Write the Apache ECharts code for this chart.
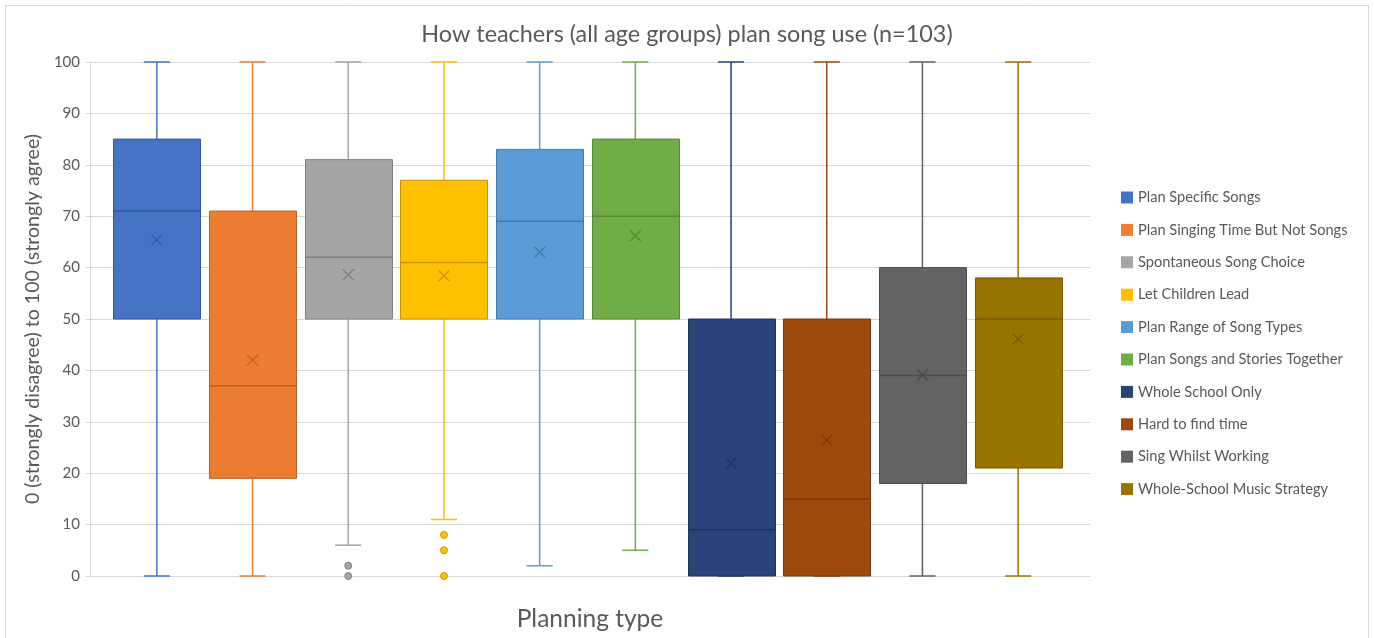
<!DOCTYPE html>
<html>
<head>
<meta charset="utf-8">
<title>How teachers plan song use</title>
<script src="https://cdn.jsdelivr.net/npm/echarts@6/dist/echarts.min.js"></script>
<style>
  html, body { margin: 0; padding: 0; background: #ffffff; }
  #chart { width: 1374px; height: 638px; }
</style>
</head>
<body>
<div id="chart"></div>
<script>
// Planning statements (one box each)
const categories = [
  'Plan Specific Songs',
  'Plan Singing Time But Not Songs',
  'Spontaneous Song Choice',
  'Let Children Lead',
  'Plan Range of Song Types',
  'Plan Songs and Stories Together',
  'Whole School Only',
  'Hard to find time',
  'Sing Whilst Working',
  'Whole-School Music Strategy'
];

// Five-number summaries and means on the 0–100 agreement scale
const lowWhisker  = [0, 0, 6, 11, 2, 5, 0, 0, 0, 0];
const q1          = [50, 19, 50, 50, 50, 50, 0, 0, 18, 21];
const median      = [71, 37, 62, 61, 69, 70, 9, 15, 39, 50];
const q3          = [85, 71, 81, 77, 83, 85, 50, 50, 60, 58];
const highWhisker = [100, 100, 100, 100, 100, 100, 100, 100, 100, 100];
const mean        = [65.4, 42.0, 58.6, 58.4, 63.0, 66.2, 22.0, 26.4, 39.1, 46.1];

// Points beyond the whiskers
const outliers = [[], [], [2, 0], [8, 5, 0], [], [], [], [], [], []];

// Value axis ticks
const yMin = 0;
const yMax = 100;
const yStep = 10;

const palette = [
  '#4472C4', '#ED7D31', '#A5A5A5', '#FFC000', '#5B9BD5',
  '#70AD47', '#264478', '#9E480E', '#636363', '#997300'
];

const FONT = 'Lato, "Noto Sans", sans-serif';
const TEXT = '#595959';
const GRID_LINE = '#d9d9d9';

function darken(hex, amt) {
  const n = parseInt(hex.slice(1), 16);
  const r = Math.round(((n >> 16) & 255) * (1 - amt));
  const g = Math.round(((n >> 8) & 255) * (1 - amt));
  const b = Math.round((n & 255) * (1 - amt));
  return 'rgb(' + r + ',' + g + ',' + b + ')';
}

function renderBox(params, api) {
  const idx = api.value(0);
  const xc = api.coord([idx, 0])[0];
  const yOf = function (v) { return api.coord([idx, v])[1]; };
  const w = api.size([1, 0])[0] * 0.91;
  const cap = w * 0.3;
  const col = palette[idx];
  const dark = darken(col, 0.22);

  const lo = api.value(1), b1 = api.value(2), md = api.value(3),
        b3 = api.value(4), hi = api.value(5), mu = api.value(6);

  const yLo = yOf(lo), y1 = yOf(b1), yMd = yOf(md), y3 = yOf(b3), yHi = yOf(hi), yMu = yOf(mu);
  const wStyle = { stroke: col, lineWidth: 1.5, fill: null };
  const x0 = Math.round(xc - w / 2) + 0.5;
  const x1 = Math.round(xc + w / 2) + 0.5;
  const m = 5.5;

  return {
    type: 'group',
    children: [
      { type: 'line', shape: { x1: xc, y1: yHi, x2: xc, y2: y3 }, style: wStyle },
      { type: 'line', shape: { x1: xc - cap / 2, y1: yHi, x2: xc + cap / 2, y2: yHi }, style: wStyle },
      { type: 'line', shape: { x1: xc, y1: yLo, x2: xc, y2: y1 }, style: wStyle },
      { type: 'line', shape: { x1: xc - cap / 2, y1: yLo, x2: xc + cap / 2, y2: yLo }, style: wStyle },
      {
        type: 'rect',
        shape: { x: x0, y: y3, width: x1 - x0, height: y1 - y3 },
        style: { fill: col, stroke: dark, lineWidth: 1 }
      },
      { type: 'line', shape: { x1: x0, y1: yMd, x2: x1, y2: yMd }, style: { stroke: dark, lineWidth: 1.5 } },
      { type: 'line', shape: { x1: xc - m, y1: yMu - m, x2: xc + m, y2: yMu + m }, style: { stroke: dark, lineWidth: 1.3 } },
      { type: 'line', shape: { x1: xc - m, y1: yMu + m, x2: xc + m, y2: yMu - m }, style: { stroke: dark, lineWidth: 1.3 } }
    ]
  };
}

const series = [];
categories.forEach(function (name, i) {
  series.push({
    name: name,
    type: 'custom',
    xAxisIndex: 1,
    yAxisIndex: 1,
    itemStyle: { color: palette[i] },
    encode: { x: 0, y: [1, 2, 3, 4, 5, 6] },
    data: [[i, lowWhisker[i], q1[i], median[i], q3[i], highWhisker[i], mean[i]]],
    renderItem: renderBox,
    z: 3
  });
});
outliers.forEach(function (pts, i) {
  if (!pts.length) return;
  series.push({
    name: categories[i] + ' (outliers)',
    type: 'scatter',
    xAxisIndex: 1,
    yAxisIndex: 1,
    symbol: 'circle',
    symbolSize: 7,
    itemStyle: { color: palette[i], borderColor: darken(palette[i], 0.2), borderWidth: 1, opacity: 1 },
    data: pts.map(function (v) { return [i, v]; }),
    z: 4
  });
});

const chart = echarts.init(document.getElementById('chart'), null, { renderer: 'canvas' });
chart.setOption({
  animation: false,
  backgroundColor: '#ffffff',
  textStyle: { fontFamily: FONT },
  graphic: [{
    type: 'rect',
    shape: { x: 5.5, y: 5.5, width: 1363, height: 640 },
    style: { fill: null, stroke: GRID_LINE, lineWidth: 1 },
    silent: true,
    z: -10
  }],
  title: {
    text: 'How teachers (all age groups) plan song use (n=103)',
    left: 'center',
    top: 18,
    textStyle: { fontFamily: FONT, fontSize: 23.4, fontWeight: 'normal', color: TEXT }
  },
  legend: {
    data: categories,
    orient: 'vertical',
    left: 1116,
    top: 185,
    icon: 'rect',
    itemWidth: 12,
    itemHeight: 12,
    itemGap: 17.4,
    textStyle: { fontFamily: FONT, fontSize: 14.6, color: TEXT, lineHeight: 14 }
  },
  grid: [
    { left: 90, top: 62, width: 1000, height: 514, outerBoundsMode: 'none', containLabel: false },
    { left: 109, top: 62, width: 957, height: 514, outerBoundsMode: 'none', containLabel: false }
  ],
  xAxis: [
    {
      gridIndex: 0,
      type: 'category',
      data: [''],
      axisLine: { show: true, lineStyle: { color: GRID_LINE, width: 1 } },
      axisTick: { show: false },
      axisLabel: { show: false },
      name: 'Planning type',
      nameLocation: 'middle',
      nameGap: 31,
      nameTextStyle: { fontFamily: FONT, fontSize: 24.5, color: TEXT }
    },
    {
      gridIndex: 1,
      type: 'category',
      data: categories,
      show: false
    }
  ],
  yAxis: [
    {
      gridIndex: 0,
      type: 'value',
      min: yMin,
      max: yMax,
      interval: yStep,
      axisLine: { show: true, lineStyle: { color: GRID_LINE, width: 1 } },
      axisTick: { show: true, length: 4, lineStyle: { color: GRID_LINE } },
      splitLine: { show: true, lineStyle: { color: GRID_LINE, width: 1 } },
      axisLabel: { fontFamily: FONT, fontSize: 15, color: TEXT, margin: 10 },
      name: '0 (strongly disagree) to 100 (strongly agree)',
      nameLocation: 'middle',
      nameGap: 47,
      nameTextStyle: { fontFamily: FONT, fontSize: 19.6, color: TEXT }
    },
    {
      gridIndex: 1,
      type: 'value',
      min: yMin,
      max: yMax,
      show: false
    }
  ],
  series: series
});
</script>
</body>
</html>
